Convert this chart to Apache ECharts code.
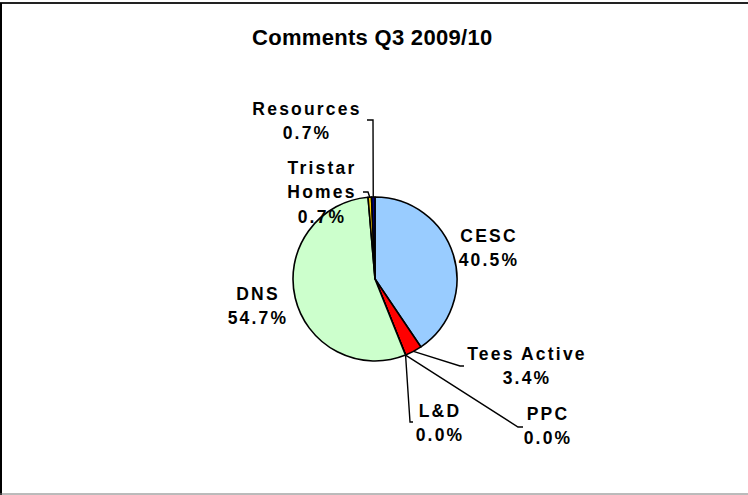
<!DOCTYPE html>
<html>
<head>
<meta charset="utf-8">
<script src="https://cdn.jsdelivr.net/npm/echarts@6/dist/echarts.min.js"></script>
<style>
html,body{margin:0;padding:0;background:#fff;}
#chart{width:748px;height:495px;}
</style>
</head>
<body>
<div id="chart"></div>
<script>
// ---- data ----
const categories = ['CESC', 'Tees Active', 'PPC', 'L&D', 'DNS', 'Tristar Homes', 'Resources'];
const labelNames = ['CESC', 'Tees Active', 'PPC', 'L&D', 'DNS', 'Tristar\nHomes', 'Resources'];
const values = [60, 5, 0, 0, 81, 1, 1];
const chartTitle = 'Comments Q3 2009/10';

// ---- styling / layout (not data) ----
const colors = ['#99CCFF', '#FF0000', '#FFFFFF', '#FFFFFF', '#CCFFCC', '#FFCC00', '#000080'];
const hasLeader = [false, true, true, true, false, true, true];
const CX = 375, CY = 279, R = 82;
// label centre offsets relative to pie centre
const labelOffsets = [[114, -31], [152, 87], [173, 147], [65, 144], [-117, 27], [-53, -87], [-68, -158]];
// leader-line bend/end offsets relative to pie centre
const leaderOffsets = [null, [[85, 87], [89, 87]], [[143, 148], [148, 148]], [[35, 143], [38, 143]], null, [[-7, -87], [-12, -87]], [[-2, -159], [-8, -159]]];

const total = values.reduce((a, b) => a + b, 0);
const midAngles = [];
let acc = 0;
values.forEach(v => { midAngles.push((acc + v / 2) / total * 2 * Math.PI); acc += v; });

const FONT = "'Liberation Sans', Arial, sans-serif";

const data = categories.map((c, i) => ({
  name: c,
  value: values[i],
  itemStyle: { color: colors[i] },
  labelLine: { show: hasLeader[i] }
}));

const chart = echarts.init(document.getElementById('chart'), null, { renderer: 'svg' });
chart.setOption({
  animation: false,
  backgroundColor: '#ffffff',
  title: {
    text: chartTitle,
    left: 247,
    top: 21,
    textStyle: { fontFamily: FONT, fontSize: 22, fontWeight: 'bold', color: '#000' }
  },
  graphic: [
    { type: 'line', shape: { x1: 0, y1: 3, x2: 748, y2: 3 }, style: { stroke: '#222', lineWidth: 2 } },
    { type: 'line', shape: { x1: 1, y1: 3, x2: 1, y2: 495 }, style: { stroke: '#000', lineWidth: 2 } },
    { type: 'line', shape: { x1: 0, y1: 494, x2: 748, y2: 494 }, style: { stroke: '#777', lineWidth: 1 } }
  ],
  series: [{
    type: 'pie',
    center: [CX, CY],
    radius: R,
    startAngle: 90,
    clockwise: true,
    avoidLabelOverlap: false,
    minShowLabelAngle: 0,
    data: data,
    itemStyle: { borderColor: '#000', borderWidth: 1.6 },
    label: {
      show: true,
      position: 'outside',
      formatter: p => labelNames[p.dataIndex] + '\n' + (p.value / total * 100).toFixed(1) + '%',
      fontFamily: FONT,
      fontSize: 17.5,
      fontWeight: 'bold',
      color: '#000',
      lineHeight: 24.5,
      align: 'center'
    },
    labelLine: { lineStyle: { color: '#000', width: 1.4 } },
    labelLayout: function (params) {
      const i = params.dataIndex;
      const o = labelOffsets[i];
      const res = { x: CX + o[0], y: CY + o[1], align: 'center', verticalAlign: 'middle' };
      if (leaderOffsets[i]) {
        const a = midAngles[i];
        const start = [CX + R * Math.sin(a), CY - R * Math.cos(a)];
        res.labelLinePoints = [start].concat(leaderOffsets[i].map(p => [CX + p[0], CY + p[1]]));
      }
      return res;
    }
  }]
});

// emulate the wide letter spacing of the original lettering
document.querySelectorAll('#chart svg text').forEach(t => {
  const f = (t.getAttribute('style') || '') + ' ' + (t.getAttribute('font-size') || '');
  if (/22px|\b22\b/.test(f)) t.setAttribute('letter-spacing', '0.3');
  else t.setAttribute('letter-spacing', '2.2');
});
</script>
</body>
</html>
